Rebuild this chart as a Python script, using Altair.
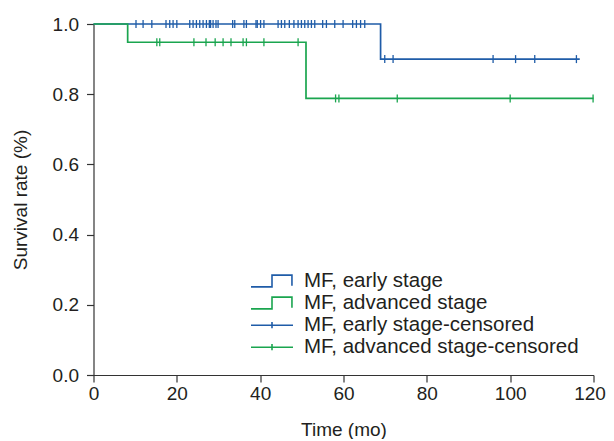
import altair as alt
import pandas as pd

# ---- data ----
series_names = ["MF, early stage", "MF, advanced stage",
                "MF, early stage-censored", "MF, advanced stage-censored"]

early_step_t = [0, 68.9, 116.7]
early_step_s = [1.0, 0.9, 0.9]
adv_step_t = [0, 8.2, 51.0, 120]
adv_step_s = [1.0, 0.948, 0.788, 0.788]

early_censor_t = [10.2, 11.9, 14.0, 17.4, 18.3, 19.1, 20.0, 23.1, 23.9, 24.7, 25.5,
                  26.3, 27.1, 27.8, 28.1, 28.7, 29.4, 29.9, 33.4, 33.9, 36.1, 36.7,
                  39.0, 39.3, 40.1, 40.9, 44.3, 45.1, 45.9, 47.0, 48.1, 49.1, 49.9,
                  50.7, 51.5, 52.3, 53.1, 55.0, 55.9, 57.9, 59.9, 62.2, 63.1, 64.1,
                  65.1, 69.9, 71.9, 95.9, 101.3, 105.9, 115.9]
adv_censor_t = [15.2, 15.9, 24.1, 27.0, 29.2, 31.1, 33.0, 35.9, 36.7, 40.9, 49.1,
                58.1, 58.9, 72.9, 100.0, 119.9]

x_ticks = [0, 20, 40, 60, 80, 100, 120]
y_ticks = [0.0, 0.2, 0.4, 0.6, 0.8, 1.0]

BLUE = "#1f5ca8"
GREEN = "#1aa54f"
TEXT = "#231f20"
FONT = "Liberation Sans"


def surv_at(t, ts, ss):
    val = ss[0]
    for ti, si in zip(ts, ss):
        if ti <= t:
            val = si
    return val


early_line = pd.DataFrame({"t": early_step_t, "s": early_step_s})
adv_line = pd.DataFrame({"t": adv_step_t, "s": adv_step_s})
early_cens = pd.DataFrame({"t": early_censor_t,
                           "s": [surv_at(t, early_step_t, early_step_s) for t in early_censor_t]})
adv_cens = pd.DataFrame({"t": adv_censor_t,
                         "s": [surv_at(t, adv_step_t, adv_step_s) for t in adv_censor_t]})
legend_df = pd.DataFrame({"series": series_names, "t": [0] * 4, "s": [0] * 4})

xs = alt.X("t:Q", scale=alt.Scale(domain=[0, 120], nice=False, zero=False),
           axis=alt.Axis(values=x_ticks, title="Time (mo)", format="d", labelFlush=False,
                         labelOffset={"condition": {"test": "datum.value === 120", "value": -4},
                                      "value": 0}))
ys = alt.Y("s:Q", scale=alt.Scale(domain=[0, 1], nice=False),
           axis=alt.Axis(values=y_ticks, title="Survival rate (%)", format=".1f",
                         labelFlush=False))

step_path = "M-1,0.27L0,0.27L0,-0.29L0.95,-0.29L0.95,0.22"
cross_path = "M-1,0L1,0M0,-0.15L0,0.15"
tick_path = "M0,-1L0,1"

early_l = alt.Chart(early_line).mark_line(interpolate="step-after", color=BLUE,
                                         strokeWidth=1.7).encode(x=xs, y=ys)
adv_l = alt.Chart(adv_line).mark_line(interpolate="step-after", color=GREEN,
                                     strokeWidth=1.7).encode(x=xs, y=ys)
early_c = alt.Chart(early_cens).mark_point(shape=tick_path, size=64, filled=False,
                                           strokeWidth=1.3, opacity=1, color=BLUE).encode(x=xs, y=ys)
adv_c = alt.Chart(adv_cens).mark_point(shape=tick_path, size=64, filled=False,
                                       strokeWidth=1.3, opacity=1, color=GREEN).encode(x=xs, y=ys)

leg = alt.Legend(orient="none", legendX=156.5, legendY=246.4, title=None,
                 symbolSize=1764, symbolStrokeWidth=1.6, clipHeight=21.6,
                 labelFontSize=20.5, labelFont=FONT, labelColor=TEXT,
                 labelOffset=10, rowPadding=0, padding=0, labelLimit=400)

legend_layer = alt.Chart(legend_df).transform_filter("false").mark_point(
    filled=False, opacity=1, strokeWidth=1.6).encode(
    x=xs, y=ys,
    color=alt.Color("series:N",
                    scale=alt.Scale(domain=series_names, range=[BLUE, GREEN, BLUE, GREEN]),
                    legend=leg),
    shape=alt.Shape("series:N",
                    scale=alt.Scale(domain=series_names,
                                    range=[step_path, step_path, cross_path, cross_path]),
                    legend=leg),
)

chart = alt.layer(early_l, early_c, adv_l, adv_c, legend_layer).properties(
    width=500, height=351,
    autosize=alt.AutoSizeParams(type="none"),
    padding={"left": 85.5, "top": 16, "right": 12, "bottom": 64},
).configure_view(stroke=None).configure_axis(
    grid=False, domainColor="#333333", tickColor="#333333", domainWidth=1.2, tickWidth=1.2,
    tickSize=7, labelFont=FONT, labelFontSize=19, labelColor=TEXT,
    titleFont=FONT, titleFontSize=19, titleColor=TEXT, titleFontWeight="normal",
).configure_axisX(labelPadding=2, titlePadding=17).configure_axisY(labelPadding=8, titlePadding=22)

chart.save("out.html", embed_options={"renderer": "svg", "actions": False})
